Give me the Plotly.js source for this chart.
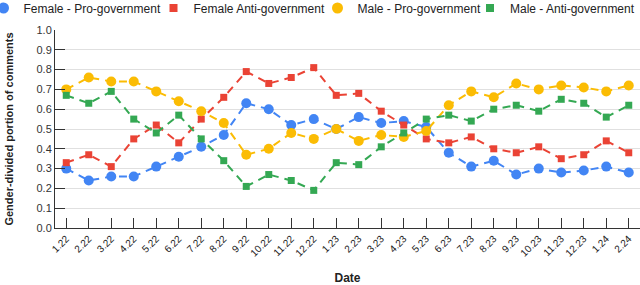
<!DOCTYPE html>
<html>
<head>
<meta charset="utf-8">
<script src="https://cdn.plot.ly/plotly-3.0.1.min.js"></script>
<style>html,body{margin:0;padding:0;background:#fff;}#chart{width:640px;height:285px;}</style>
</head>
<body>
<div id="chart"></div>
<script>
const dates = ["1.22","2.22","3.22","4.22","5.22","6.22","7.22","8.22","9.22","10.22","11.22","12.22","1.23","2.23","3.23","4.23","5.23","6.23","7.23","8.23","9.23","10.23","11.23","12.23","1.24","2.24"];
const femalePro  = [0.30,0.24,0.26,0.26,0.31,0.36,0.41,0.47,0.63,0.60,0.52,0.55,0.50,0.56,0.53,0.54,0.51,0.38,0.31,0.34,0.27,0.30,0.28,0.29,0.31,0.28];
const femaleAnti = [0.33,0.37,0.31,0.45,0.52,0.43,0.55,0.66,0.79,0.73,0.76,0.81,0.67,0.68,0.59,0.52,0.45,0.43,0.46,0.40,0.38,0.41,0.35,0.37,0.44,0.38];
const malePro    = [0.70,0.76,0.74,0.74,0.69,0.64,0.59,0.53,0.37,0.40,0.48,0.45,0.50,0.44,0.47,0.46,0.49,0.62,0.69,0.66,0.73,0.70,0.72,0.71,0.69,0.72];
const maleAnti   = [0.67,0.63,0.69,0.55,0.48,0.57,0.45,0.34,0.21,0.27,0.24,0.19,0.33,0.32,0.41,0.48,0.55,0.57,0.54,0.60,0.62,0.59,0.65,0.63,0.56,0.62];
const seriesNames = ["Female - Pro-government","Female Anti-government","Male - Pro-government","Male - Anti-government"];
const seriesColors = ["#4285F4","#EA4335","#FBBC04","#34A853"];
const seriesSymbols = ["circle","square","circle","square"];
const seriesValues = [femalePro, femaleAnti, malePro, maleAnti];

const legendIds = ["legend","legend2","legend3","legend4"];
const legendX = [75 / 640, 242 / 640, 402 / 640, 1];
const legendAnchor = ["center", "center", "center", "right"];

const traces = [];
seriesValues.forEach((vals, i) => {
  traces.push({
    x: dates, y: vals, type: "scatter", mode: "lines+markers", name: seriesNames[i],
    showlegend: false, cliponaxis: false,
    line: {color: seriesColors[i], width: 2, dash: "8px,6px"},
    marker: {color: seriesColors[i], symbol: seriesSymbols[i], size: seriesSymbols[i] === "circle" ? 10 : 7}
  });
});
seriesValues.forEach((vals, i) => {
  traces.push({
    x: [null], y: [null], type: "scatter", mode: "markers", name: seriesNames[i],
    showlegend: true, legend: legendIds[i],
    marker: {color: seriesColors[i], symbol: seriesSymbols[i], size: seriesSymbols[i] === "circle" ? 11 : 8}
  });
});

const layout = {
  width: 640, height: 285,
  margin: {l: 55, r: 0, t: 30, b: 57},
  paper_bgcolor: "#fff", plot_bgcolor: "#fff",
  font: {family: "Liberation Sans, Arial, sans-serif", color: "#222", size: 11},
  showlegend: true,
  xaxis: {
    type: "category", range: [-0.5, 25.5], tickangle: -45,
    showline: true, linecolor: "#333", linewidth: 1, mirror: false,
    ticks: "inside", ticklen: 10, tickcolor: "#333", tickwidth: 1,
    showgrid: false, zeroline: false,
    tickfont: {size: 10, color: "#222"},
    title: {text: "Date", font: {size: 12, color: "#222", weight: "bold"}, standoff: 16}
  },
  yaxis: {
    range: [0, 1], dtick: 0.1, tickformat: ".1f",
    showline: true, linecolor: "#333", linewidth: 1,
    ticks: "inside", ticklen: 10, tickcolor: "#333", tickwidth: 1,
    showgrid: true, gridcolor: "#e0e0e0", gridwidth: 1, zeroline: false,
    tickfont: {size: 11, color: "#333"},
    title: {text: "Gender-divided portion of comments", font: {size: 11, color: "#222", weight: "bold"}, standoff: 20}
  }
};
legendIds.forEach((id, i) => {
  layout[id] = {orientation: "h", x: legendX[i], xref: "container", xanchor: legendAnchor[i],
                y: 1 - 8 / 285, yref: "container", yanchor: "middle", bgcolor: "rgba(0,0,0,0)",
                font: {size: 12, color: "#222"}, itemwidth: 30};
});
Plotly.newPlot("chart", traces, layout, {displayModeBar: false, staticPlot: true});
</script>
</body>
</html>
